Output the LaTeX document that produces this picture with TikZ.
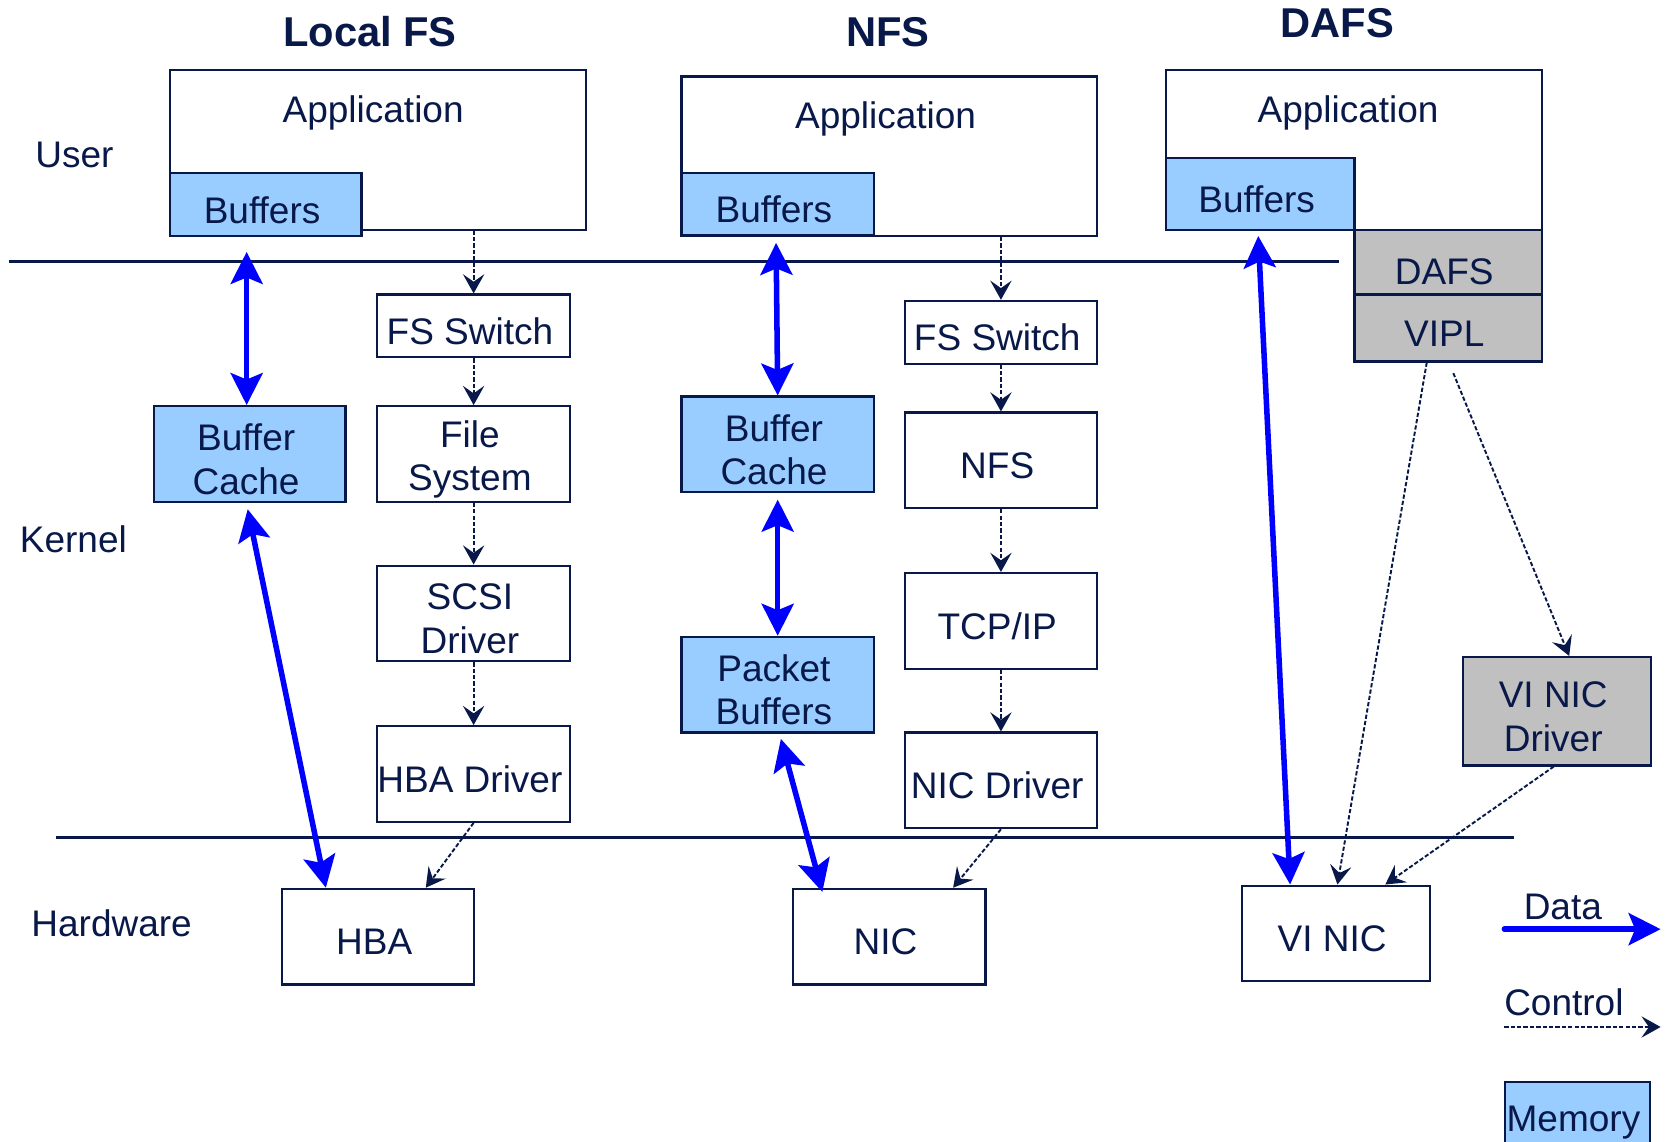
\documentclass[tikz,border=0pt]{standalone}
\usepackage{fontspec}
\setmainfont{Liberation Sans}
\usetikzlibrary{arrows.meta,calc}
\definecolor{navy}{RGB}{8,24,72}
\definecolor{memblue}{RGB}{153,204,255}
\definecolor{grayfill}{RGB}{192,192,192}
\definecolor{datablue}{RGB}{0,0,255}
\begin{document}
\begin{tikzpicture}[x=0.5pt,y=-0.5pt,
  txt/.style={text=navy, font=\fontsize{17.4}{20.5}\selectfont, inner sep=0pt},
  box/.style={draw=navy, line width=1pt, inner sep=0pt},
  t/.style={label={[txt,align=center,xshift=-1.75pt,yshift=-2.5pt]center:{#1}}},
  mem/.style={box, fill=memblue},
  gry/.style={box, fill=grayfill},
  small/.style={minimum width=90.5pt, minimum height=29.5pt},
  big/.style={minimum width=90.5pt, minimum height=45pt},
  ttl/.style={text=navy, font=\bfseries\fontsize{19.6}{23}\selectfont, inner sep=0pt},
  ctrl/.style={draw=navy, line width=0.9pt, dash pattern=on 2pt off 1pt, -{Stealth[length=9pt,width=10pt,inset=3.5pt]}},
  data/.style={draw=datablue, line width=2.6pt, {Stealth[length=15pt,width=15pt,inset=3pt]}-{Stealth[length=15pt,width=15pt,inset=3pt]}},
  sep/.style={draw=navy, line width=1.2pt}]
\useasboundingbox (0,0) rectangle (1568,1074);
\clip (0,0) rectangle (1568,1074);

% titles and layer labels
\node[ttl] (t1) at (348,30) {Local FS};
\node[ttl] (t2) at (835,30) {NFS};
\node[ttl] (t3) at (1258,22) {DAFS};
\node[txt] (luser) at (70,146) {User};
\node[txt] (lkern) at (69,507) {Kernel};
\node[txt] (lhw) at (105,868) {Hardware};

% separator lines
\coordinate (s1a) at (8,246);
\coordinate (s1b) at (1259,246);
\coordinate (s2a) at (53,788);
\coordinate (s2b) at (1424,788);
\draw[sep] (s1a) -- (s1b);
\draw[sep] (s2a) -- (s2b);

% ---------- Local FS ----------
\node[box, minimum width=195.5pt, minimum height=75pt] (app1) at (355.5,141) {};
\node[txt] (app1t) at (351,106) {Application};
\node[mem, minimum width=90pt, minimum height=29.5pt, t=Buffers] (buf1) at (250,192.5) {};
\node[box, small, t=FS Switch] (fss1) at (445.5,306.5) {};
\node[box, big, t={File\\System}] (fsys1) at (445.5,427) {};
\node[box, big, t={SCSI\\Driver}] (scsi1) at (445.5,577) {};
\node[box, big, t=HBA Driver] (hbad1) at (445.5,728) {};
\node[mem, minimum width=90pt, minimum height=45pt, t={Buffer\\Cache}] (bc1) at (235,427) {};
\node[box, big, t=HBA] (hba1) at (355.5,881) {};

\draw[ctrl] (fss1.north |- app1.south) -- (fss1.north);
\draw[ctrl] (fss1.south) -- (fsys1.north);
\draw[ctrl] (fsys1.south) -- (scsi1.north);
\draw[ctrl] (scsi1.south) -- (hbad1.north);
\draw[ctrl] (hbad1.south) -- ($(hba1.north)+(45,0)$);
\draw[data] ($(buf1.south)+(-18,14)$) -- ($(bc1.north)+(-3,0)$);
\draw[data] ($(bc1.south)+(-2,6)$) -- ($(hba1.north)+(-49,0)$);

% ---------- NFS ----------
\node[box, minimum width=195.5pt, minimum height=75pt] (app2) at (836.5,147) {};
\node[txt] (app2t) at (833,112) {Application};
\node[mem, small, t=Buffers] (buf2) at (731.5,192) {};
\node[box, small, t=FS Switch] (fss2) at (941.5,312.5) {};
\node[box, big, t=NFS] (nfs2) at (941.5,433) {};
\node[box, big, t=TCP/IP] (tcp2) at (941.5,584) {};
\node[box, big, t=NIC Driver] (nicd2) at (941.5,734) {};
\node[mem, big, t={Buffer\\Cache}] (bc2) at (731.5,418) {};
\node[mem, big, t={Packet\\Buffers}] (pb2) at (731.5,644) {};
\node[box, big, t=NIC] (nic2) at (836.5,881) {};

\draw[ctrl] (fss2.north |- app2.south) -- (fss2.north);
\draw[ctrl] (fss2.south) -- (nfs2.north);
\draw[ctrl] (nfs2.south) -- (tcp2.north);
\draw[ctrl] (tcp2.south) -- (nicd2.north);
\draw[ctrl] (nicd2.south) -- ($(nic2.north)+(60,0)$);
\draw[data] ($(buf2.south)+(-1.5,6)$) -- (bc2.north);
\draw[data] ($(bc2.south)+(0,6)$) -- (pb2.north);
\draw[data] ($(pb2.south)+(3,5)$) -- ($(nic2.north)+(-63,4)$);

% ---------- DAFS ----------
\node[box, minimum width=176.5pt, minimum height=75pt] (app3) at (1273.5,141) {};
\node[txt] (app3t) at (1268,106) {Application};
\node[mem, minimum width=88.5pt, minimum height=33.5pt, t=Buffers] (buf3) at (1185.5,182.5) {};
\node[gry, minimum width=88pt, minimum height=30.5pt,
      label={[txt,xshift=-1.75pt,yshift=-4.5pt]center:DAFS}] (dafs3) at (1362,246.5) {};
\node[gry, minimum width=88pt, minimum height=31.5pt, t=VIPL] (vipl3) at (1362,308.5) {};
\node[gry, minimum width=88.5pt, minimum height=51pt, t={VI NIC\\Driver}] (vnicd3) at (1464.5,669) {};
\node[box, minimum width=88.5pt, minimum height=45pt, t=VI NIC] (vnic3) at (1256.5,878) {};

\draw[ctrl] ($(vipl3.south)+(-20,0)$) -- ($(vnic3.north)+(1.5,0)$);
\draw[ctrl] ($(vipl3.south)+(5,10)$) -- ($(vnicd3.north)+(11.5,0)$);
\draw[ctrl] ($(vnicd3.south)+(-3,0)$) -- ($(vnic3.north)+(46.5,0)$);
\draw[data] ($(buf3.south)+(-2,5)$) -- ($(vnic3.north)+(-43,0)$);

% ---------- Legend ----------
\node[txt] (ldata) at (1470,853) {Data};
\coordinate (lda) at (1415,874);
\coordinate (ldb) at (1562,874);
\draw[draw=datablue, line width=2.6pt, line cap=round, -{Stealth[length=15pt,width=15pt,inset=3pt]}] (lda) -- (ldb);
\node[txt] (lctrl) at (1471,943) {Control};
\coordinate (lca) at (1415,966);
\coordinate (lcb) at (1562,966);
\draw[ctrl] (lca) -- (lcb);
\node[mem, minimum width=68pt, minimum height=42pt, anchor=north] (lmem) at (1484,1017) {};
\node[txt] (lmemt) at (1480,1056) {Memory};
\end{tikzpicture}
\end{document}
